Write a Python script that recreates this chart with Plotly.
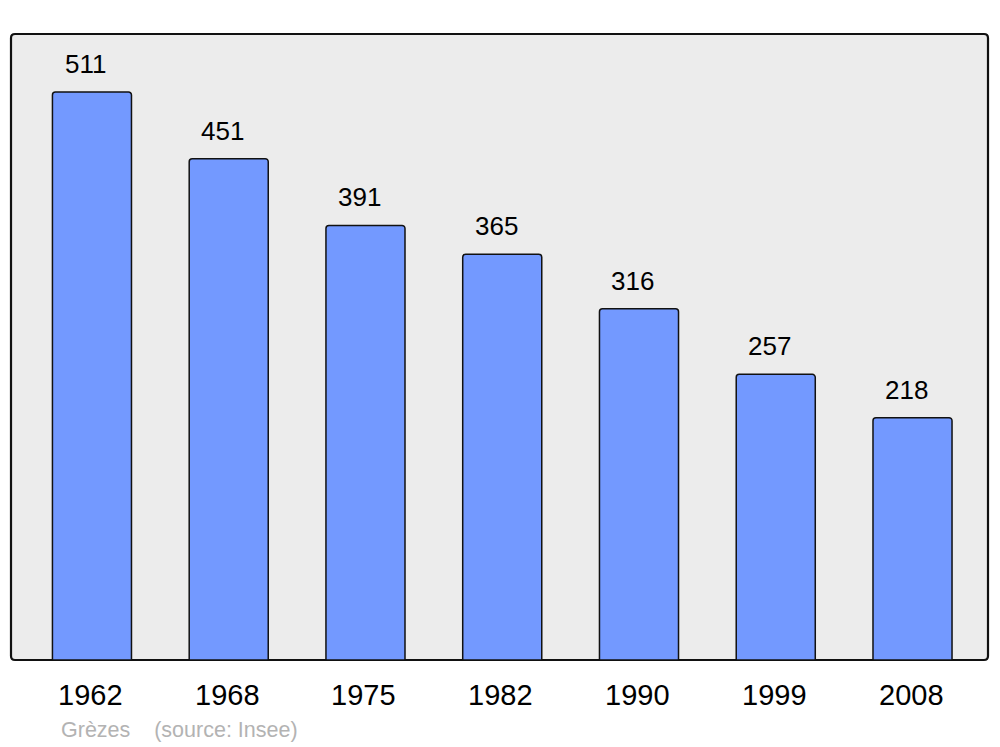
import plotly.graph_objects as go

years = ["1962", "1968", "1975", "1982", "1990", "1999", "2008"]
population = [511, 451, 391, 365, 316, 257, 218]
caption_name = "Grèzes"
caption_source = "(source: Insee)"

W, H = 1000, 747
ml, mt = 11, 34
pw, ph = 977, 626
mr, mb = W - ml - pw, H - mt - ph

xs = list(range(len(years)))

fig = go.Figure()
fig.add_trace(go.Bar(
    x=xs, y=population, width=0.578,
    marker=dict(color="#7399ff", line=dict(color="#111111", width=1.5), cornerradius=3),
    hoverinfo="skip",
))

# rounded frame
rx, ry = 4 / pw, 4 / ph
path = (f"M {rx},0 L {1-rx},0 Q 1,0 1,{ry} L 1,{1-ry} Q 1,1 {1-rx},1 "
        f"L {rx},1 Q 0,1 0,{1-ry} L 0,{ry} Q 0,0 {rx},0 Z")
fig.add_shape(type="path", xref="paper", yref="paper", path=path,
              fillcolor="#ececec", line=dict(color="#111111", width=2.2), layer="below")

for x, v in zip(xs, population):
    fig.add_annotation(x=x, y=v, text=str(v), showarrow=False, yanchor="middle",
                       yshift=28, xshift=-6,
                       font=dict(family="Liberation Sans, Arial", size=26, color="#000"))
for x, yr in zip(xs, years):
    fig.add_annotation(x=x, y=0, xref="x", yref="paper", text=yr, showarrow=False,
                       yanchor="middle", yshift=-35, xshift=-1.5,
                       font=dict(family="Liberation Sans, Arial", size=29, color="#000"))

fig.add_annotation(x=(59 - ml) / pw, y=0, xref="paper", yref="paper", xanchor="left",
                   yanchor="middle", yshift=-70, showarrow=False,
                   text=caption_name + "&nbsp;&nbsp;&nbsp;&nbsp;" + caption_source,
                   font=dict(family="Liberation Sans, Arial", size=21.5, color="#b3b3b3"))

fig.update_layout(
    width=W, height=H, margin=dict(l=ml, r=mr, t=mt, b=mb),
    paper_bgcolor="white", plot_bgcolor="rgba(0,0,0,0)",
    showlegend=False,
    xaxis=dict(range=[-0.592, 6.552], showticklabels=False, showgrid=False, zeroline=False,
               fixedrange=True),
    yaxis=dict(range=[0, 563.2], showticklabels=False, showgrid=False, zeroline=False,
               fixedrange=True),
)
fig.write_html("out.html", config={"displayModeBar": False, "staticPlot": True},
               post_script="document.body.style.margin='0';document.body.style.overflow='hidden';")
